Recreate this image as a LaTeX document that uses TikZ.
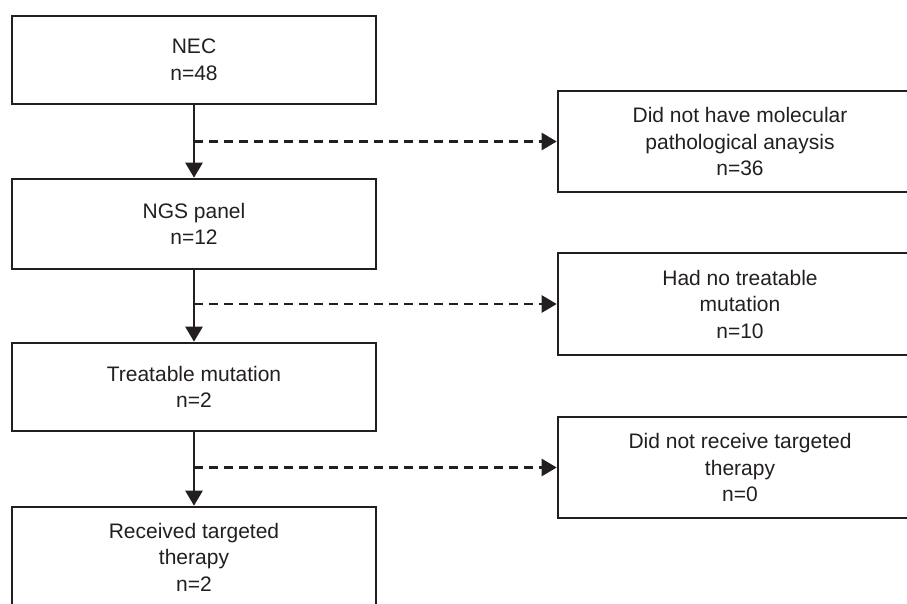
\documentclass[tikz,border=0pt]{standalone}
\usepackage{fontspec}
\setmainfont{Liberation Sans}
\usetikzlibrary{arrows.meta}
\definecolor{ink}{HTML}{231F20}

\begin{document}
\begin{tikzpicture}[x=1pt,y=-1pt,line width=2.6pt,draw=ink,
	box/.style={draw=ink,text=ink,minimum width=364pt,align=center,inner sep=0pt,
		font=\fontsize{21}{26.5}\selectfont},
	downarrow/.style={ink,-{Triangle[length=15pt,width=17pt]}},
	sidearrow/.style={ink,dash pattern=on 9pt off 6pt,-{Triangle[length=15pt,width=17pt]}}]
	\useasboundingbox (0,0) rectangle (907,604);
	\clip (0,0) rectangle (907,604);
	% left column
	\node[box,minimum height=88pt] (nec) at (194,60) {NEC\\n=48};
	\node[box,minimum height=90pt] (ngs) at (194,224) {NGS panel\\n=12};
	\node[box,minimum height=88pt] (treat) at (194,387) {Treatable mutation\\n=2};
	\node[box,minimum height=100pt] (recv) at (194,557) {Received targeted\\therapy\\n=2};
	% right column
	\node[box,minimum height=101pt] (nomol) at (740,141.5) {Did not have molecular\\pathological anaysis\\n=36};
	\node[box,minimum height=102pt] (notreat) at (740,304) {Had no treatable\\mutation\\n=10};
	\node[box,minimum height=101pt] (notarget) at (740,467.5) {Did not receive targeted\\therapy\\n=0};
	\foreach \a/\b in {nec/ngs,ngs/treat,treat/recv}{
		\draw[downarrow] (\a) -- (\b);}
	\foreach \a/\b in {nec/nomol,ngs/notreat,treat/notarget}{
		\draw[sidearrow] (\a.south |- \b.west) -- (\b.west);}
\end{tikzpicture}
\end{document}
